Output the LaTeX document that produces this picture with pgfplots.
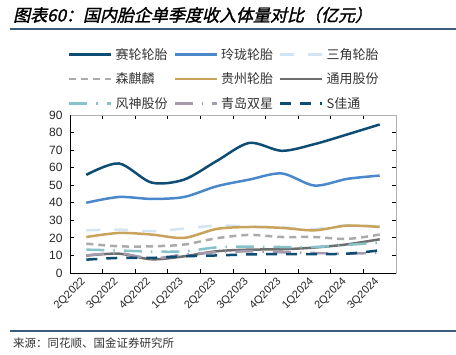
\documentclass[border=0pt]{standalone}
\usepackage{pgfplots}
\pgfplotsset{compat=1.18}
\usepackage{fontspec}
\setmainfont{Liberation Sans}
\newfontfamily\cjk{Noto Sans CJK SC}
\newfontfamily\cjktitle[FakeSlant=0.22,FakeBold=1.5]{Noto Sans CJK SC}
\definecolor{cSL}{HTML}{0E4D73}
\definecolor{cLL}{HTML}{4A87CB}
\definecolor{cSJ}{HTML}{D3E4F3}
\definecolor{cSQL}{HTML}{ABABAB}
\definecolor{cGZ}{HTML}{C8A35B}
\definecolor{cTY}{HTML}{6E6E6E}
\definecolor{cFS}{HTML}{86C2C8}
\definecolor{cQD}{HTML}{A69AAE}
\definecolor{cJT}{HTML}{0E4D73}
\definecolor{cRule}{HTML}{3D5A7A}
\begin{document}
\begin{tikzpicture}
\useasboundingbox (-70pt,-82pt) rectangle (386pt,273pt);
\begin{axis}[
  scale only axis, width=326pt, height=158pt,
  xmin=-0.5, xmax=9.5, ymin=0, ymax=90,
  ytick={0,10,...,90},
  xtick={0,...,9},
  xticklabels={2Q2022,3Q2022,4Q2022,1Q2023,2Q2023,3Q2023,4Q2023,1Q2024,2Q2024,3Q2024},
  minor xtick={0.5,1.5,...,9.5},
  major x tick style={draw=none},
  minor x tick style={black, line width=0.8pt},
  minor tick length=4pt,
  major tick length=4pt,
  ytick style={black, line width=0.8pt},
  tick align=inside,
  axis line style={draw=black!30, line width=0.6pt},
  /pgf/number format/assume math mode=true,
  ticklabel style={font=\fontsize{12}{12}\selectfont, text=black!85},
  yticklabel style={xshift=-4pt},
  xticklabel style={rotate=45, anchor=east, font=\fontsize{11}{11}\selectfont, xshift=-3pt, yshift=-3pt},
  clip=false,
  legend columns=3,
  legend style={at={(-0.006,1.435)}, anchor=north west, draw=none, fill=none,
    inner xsep=0pt, inner ysep=0pt, row sep=8pt,
    font=\cjk\fontsize{13}{13}\selectfont, text=black!80,
    nodes={inner xsep=3pt, inner ysep=2pt},
    /tikz/every even column/.append style={column sep=3pt}},
  legend cell align=left,
  legend image code/.code={\draw[#1] (0pt,0pt) -- (42pt,0pt);},
  every axis plot/.append style={smooth, tension=0.5, line width=2.5pt},
]
\addplot[cSL] coordinates {(0,55.9)(1,62.4)(2,51.5)(3,53.2)(4,63.8)(5,74.1)(6,69.6)(7,73.4)(8,78.9)(9,84.6)};
\addlegendentry{赛轮轮胎}
\addplot[cLL] coordinates {(0,40.0)(1,43.3)(2,42.2)(3,43.3)(4,49.4)(5,53.2)(6,56.7)(7,49.8)(8,53.6)(9,55.5)};
\addlegendentry{玲珑轮胎}
\addplot[cSJ, dash pattern=on 14pt off 14pt] coordinates {(0,24.3)(1,24.7)(2,23.8)(3,25.3)(4,27.0)(5,26.5)(6,26.0)(7,25.0)(8,27.2)(9,26.5)};
\addlegendentry{三角轮胎}
\addplot[cSQL, dash pattern=on 7pt off 5pt] coordinates {(0,16.7)(1,15.2)(2,15.2)(3,16.2)(4,19.8)(5,21.7)(6,20.5)(7,20.5)(8,19.4)(9,21.9)};
\addlegendentry{森麒麟}
\addplot[cGZ] coordinates {(0,20.5)(1,22.8)(2,21.9)(3,20.0)(4,25.1)(5,26.2)(6,25.7)(7,24.3)(8,27.0)(9,26.2)};
\addlegendentry{贵州轮胎}
\addplot[cTY] coordinates {(0,9.9)(1,11.0)(2,7.8)(3,9.5)(4,12.4)(5,13.3)(6,13.5)(7,14.5)(8,16.3)(9,19.2)};
\addlegendentry{通用股份}
\addplot[cFS, dash pattern=on 18pt off 9pt on 1.5pt off 9pt] coordinates {(0,13.3)(1,12.8)(2,12.2)(3,12.3)(4,14.6)(5,15.0)(6,14.8)(7,14.8)(8,16.0)(9,17.3)};
\addlegendentry{风神股份}
\addplot[cQD, dash pattern=on 18pt off 9pt on 1.5pt off 9pt] coordinates {(0,10.0)(1,11.3)(2,8.3)(3,10.5)(4,11.8)(5,12.3)(6,11.8)(7,11.4)(8,11.0)(9,11.6)};
\addlegendentry{青岛双星}
\addplot[cJT, dash pattern=on 11pt off 9pt] coordinates {(0,7.6)(1,8.6)(2,8.6)(3,9.5)(4,10.0)(5,10.6)(6,10.8)(7,10.8)(8,11.0)(9,12.9)};
\addlegendentry{S佳通}
\draw[black, line width=0.8pt] (rel axis cs:0,1) -- (rel axis cs:0,0) -- (rel axis cs:1,0);
\end{axis}
\node[anchor=west,inner sep=0] at (-57pt,258pt) {\cjktitle\fontsize{17}{17}\selectfont 图表60：国内胎企单季度收入体量对比（亿元）};
\draw[cRule,line width=1.3pt] (-60pt,244pt) -- (386pt,244pt);
\draw[cRule,line width=1.3pt] (-60pt,-58pt) -- (386pt,-58pt);
\node[anchor=west,inner sep=0,text=black!80] at (-57pt,-70pt) {\cjk\fontsize{11.5}{11.5}\selectfont 来源：同花顺、国金证券研究所};
\end{tikzpicture}
\end{document}
